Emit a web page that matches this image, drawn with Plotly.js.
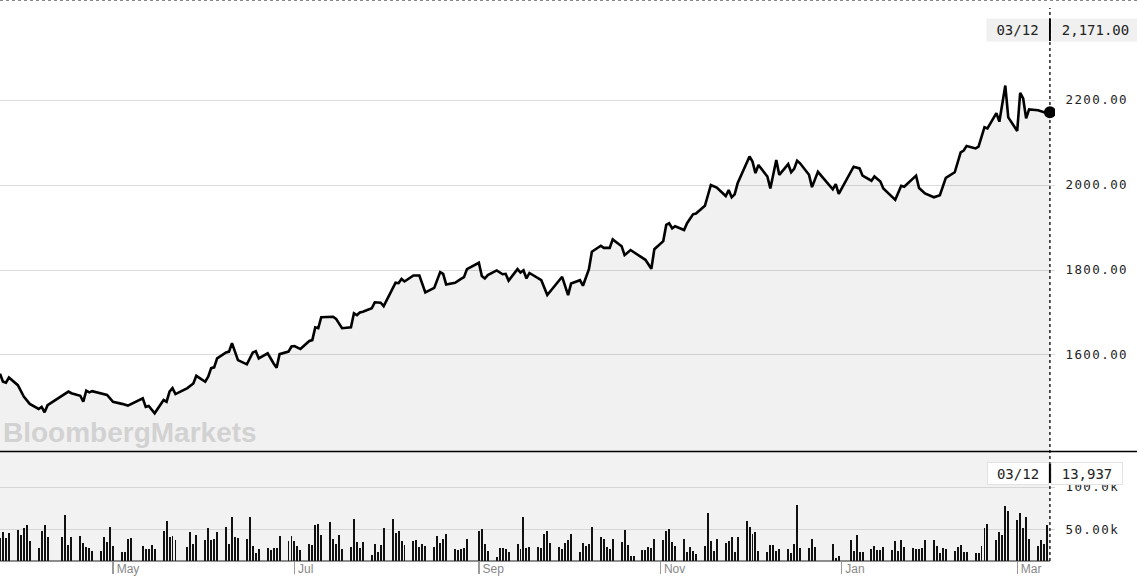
<!DOCTYPE html>
<html>
<head>
<meta charset="utf-8">
<script src="https://cdn.plot.ly/plotly-3.0.1.min.js"></script>
<style>
html,body{margin:0;padding:0;background:#fff;overflow:hidden;}
#chart{width:1137px;height:583px;}
.ytick text,.y2tick text{letter-spacing:1.4px;}
</style>
</head>
<body>
<div id="chart"></div>
<script>
// ---- data ----
const priceDates = [
'2020-03-24','2020-03-25','2020-03-26','2020-03-27','2020-03-30','2020-04-01','2020-04-03','2020-04-06','2020-04-07','2020-04-08','2020-04-09',
'2020-04-16','2020-04-17','2020-04-20','2020-04-21','2020-04-22','2020-04-23','2020-04-24','2020-04-29','2020-05-01','2020-05-04','2020-05-06',
'2020-05-11','2020-05-12','2020-05-13','2020-05-15','2020-05-18','2020-05-19','2020-05-20','2020-05-21','2020-05-22','2020-05-26','2020-05-28','2020-05-29',
'2020-06-01','2020-06-02','2020-06-03','2020-06-04','2020-06-05','2020-06-08','2020-06-09','2020-06-10','2020-06-12','2020-06-15','2020-06-17','2020-06-18','2020-06-19',
'2020-06-22','2020-06-24','2020-06-25','2020-06-26','2020-06-29','2020-06-30','2020-07-01','2020-07-03','2020-07-06','2020-07-07','2020-07-08','2020-07-09','2020-07-10',
'2020-07-14','2020-07-15','2020-07-17','2020-07-20','2020-07-21','2020-07-22','2020-07-23','2020-07-24','2020-07-27','2020-07-28','2020-07-30','2020-07-31',
'2020-08-04','2020-08-05','2020-08-06','2020-08-07','2020-08-10','2020-08-12','2020-08-14','2020-08-17','2020-08-19','2020-08-20','2020-08-21','2020-08-24','2020-08-26','2020-08-27','2020-08-28',
'2020-09-01','2020-09-02','2020-09-03','2020-09-04','2020-09-07','2020-09-09','2020-09-10','2020-09-11','2020-09-14','2020-09-15','2020-09-16','2020-09-17','2020-09-18','2020-09-22','2020-09-24','2020-09-29',
'2020-10-01','2020-10-02','2020-10-05','2020-10-06','2020-10-07','2020-10-08','2020-10-09','2020-10-12','2020-10-13','2020-10-15','2020-10-16','2020-10-19','2020-10-20','2020-10-22','2020-10-27','2020-10-29','2020-10-30',
'2020-11-02','2020-11-03','2020-11-04','2020-11-05','2020-11-06','2020-11-09','2020-11-10','2020-11-12','2020-11-13','2020-11-16','2020-11-18','2020-11-20','2020-11-23','2020-11-24','2020-11-25','2020-11-26','2020-11-27',
'2020-12-01','2020-12-02','2020-12-03','2020-12-04','2020-12-07','2020-12-08','2020-12-10','2020-12-11','2020-12-14','2020-12-15','2020-12-16','2020-12-17','2020-12-18','2020-12-21','2020-12-22','2020-12-24','2020-12-29','2020-12-30','2020-12-31',
'2021-01-05','2021-01-07','2021-01-08','2021-01-11','2021-01-12','2021-01-14','2021-01-15','2021-01-19','2021-01-21','2021-01-22','2021-01-26','2021-01-27','2021-01-29',
'2021-02-01','2021-02-03','2021-02-05','2021-02-08','2021-02-10','2021-02-11','2021-02-12','2021-02-15','2021-02-16','2021-02-18','2021-02-19','2021-02-22','2021-02-23','2021-02-25','2021-02-26',
'2021-03-01','2021-03-02','2021-03-03','2021-03-04','2021-03-05','2021-03-08','2021-03-11','2021-03-12'
];
const priceValues = [
1556,1537,1535,1547,1529,1502,1485,1473,1478,1465,1482,
1514,1510,1504,1490,1516,1512,1515,1506,1490,1485,1481,
1498,1478,1480,1463,1494,1490,1514,1522,1508,1522,1533,1551,
1537,1549,1569,1571,1592,1606,1608,1628,1588,1578,1606,1609,1592,
1604,1580,1570,1602,1608,1620,1621,1614,1633,1635,1665,1663,1689,
1690,1685,1663,1665,1698,1694,1700,1702,1710,1724,1723,1715,
1770,1769,1779,1773,1787,1787,1747,1758,1795,1791,1766,1770,1779,1783,1802,
1817,1786,1780,1788,1799,1790,1791,1775,1802,1794,1799,1780,1793,1776,1741,1784,
1741,1768,1776,1763,1783,1802,1843,1857,1852,1852,1872,1856,1835,1847,1824,1803,1849,
1868,1906,1910,1898,1903,1894,1910,1931,1933,1951,2000,1994,1974,1988,1971,1978,2004,
2067,2055,2028,2047,2020,1992,2059,2024,2049,2030,2038,2057,2051,2024,1995,2031,1990,2002,1979,
2043,2039,2022,2010,2020,2008,1992,1965,1998,1996,2022,1993,1980,
1971,1976,2017,2030,2077,2081,2092,2086,2090,2136,2133,2169,2149,2234,2159,
2127,2217,2204,2157,2178,2176,2169,2171
];
// daily volume, one value per trading session from sessionStart to sessionEnd
const sessionStart = '2020-03-24';
const sessionEnd = '2021-03-12';
const holidays = ['2020-04-10','2020-04-13','2020-05-08','2020-05-25','2020-08-31','2020-12-25','2020-12-28','2021-01-01'];
const volumeValues = [
41100,47700,41100,46500,
49600,44200,52700,55400,36800,
29100,48800,55400,42200,
41500,67400,32200,41800,
43000,34900,30600,28700,25600,
25600,41500,36400,53100,31400,
24400,24400,39100,40700,
31400,27500,27500,32900,27900,
49200,60100,42200,43000,38700,
30200,47700,33700,44200,
38000,51900,38700,39500,47700,
53100,33300,64700,41500,40700,
39100,65100,31000,23600,27500,
29100,26700,29100,28700,43400,
37200,42600,37600,31000,26700,
33700,32500,55400,56600,44200,
58900,39500,33300,43800,27900,
29800,62400,36000,29100,36000,
20500,33300,24800,32500,51900,
62800,46100,48800,36800,32900,
37200,38400,30600,34100,31400,
30200,43400,34900,39500,44900,
28300,27100,27900,28700,39500,
48400,51500,33300,26000,
19000,29100,28700,27900,24800,
33300,28300,65100,29400,29800,
30200,28700,44900,48800,34900,
30600,28300,34500,38400,45300,
24800,34900,31400,34100,53500,
41500,39500,29800,27900,39500,
36400,50400,32200,19800,19800,
26700,26700,29800,29400,39500,
38400,49200,51500,35600,31000,
39500,24400,30200,25200,22500,
31000,69800,37600,25200,39500,
34900,37600,42200,24000,41800,
60400,53100,44900,47700,25200,
24400,32200,32200,26000,27900,
27900,23200,33300,78700,28700,
29400,39500,29800,14100,
33700,17800,20100,
38400,26000,43800,24400,24400,
27900,31800,27100,27100,29800,
27100,37600,26000,38400,30200,
29100,27900,28300,29100,38000,
38000,31400,23600,29100,27900,
25600,30600,32500,24800,24000,
23200,23200,31400,52300,57000,
38000,48000,43800,78300,72500,
61600,69800,52700,65500,39900,
31400,38400,34100,55800,13937
];
const monthTicks = ['2020-05-01','2020-07-01','2020-09-01','2020-11-01','2021-01-01','2021-03-01'];
const monthLabels = ['May','Jul','Sep','Nov','Jan','Mar'];
const priceTicks = [1600,1800,2000,2200];
const volumeTicks = [50000,100000];
const watermark = 'BloombergMarkets';

// ---- build trading sessions ----
function tradingDays(start, end, skip){
  const out=[]; const d=new Date(start+'T00:00:00Z'); const e=new Date(end+'T00:00:00Z');
  while(d<=e){
    const wd=d.getUTCDay(); const s=d.toISOString().slice(0,10);
    if(wd!==0 && wd!==6 && skip.indexOf(s)<0) out.push(s);
    d.setUTCDate(d.getUTCDate()+1);
  }
  return out;
}
const volumeDates = tradingDays(sessionStart, sessionEnd, holidays);

const lastDate = priceDates[priceDates.length-1];
const lastPrice = priceValues[priceValues.length-1];
const lastVol = volumeValues[volumeValues.length-1];
const dateLabel = lastDate.slice(5,7)+'/'+lastDate.slice(8,10);
const priceLabel = lastPrice.toLocaleString('en-US',{minimumFractionDigits:2,maximumFractionDigits:2});
const volLabel = lastVol.toLocaleString('en-US');

const xRange = ['2020-03-24','2021-03-13 17:00'];
const mono = '"DejaVu Sans Mono", "Liberation Mono", monospace';
const H = 561; // plot-area height in px (for paper fractions)

const traces = [
  {type:'scatter', mode:'lines', x:priceDates, y:priceValues, xaxis:'x', yaxis:'y',
   line:{color:'#000', width:2.6, shape:'linear'}, fill:'tozeroy', fillcolor:'rgba(0,0,0,0.055)', hoverinfo:'skip'},
  {type:'scatter', mode:'markers', x:[lastDate], y:[lastPrice], xaxis:'x', yaxis:'y',
   marker:{color:'#000', size:12}, hoverinfo:'skip'},
  {type:'bar', x:volumeDates, y:volumeValues, xaxis:'x', yaxis:'y2',
   marker:{color:'#111', line:{width:0}}, width:0.66*86400000, hoverinfo:'skip'}
];

const layout = {
  width:1137, height:583,
  margin:{l:0, r:82, t:0, b:22},
  paper_bgcolor:'#fff', plot_bgcolor:'rgba(0,0,0,0)',
  showlegend:false, bargap:0,
  xaxis:{type:'date', range:xRange, anchor:'y2', showgrid:false, zeroline:false, showline:false,
    tickmode:'array', tickvals:monthTicks, ticktext:monthLabels,
    ticks:'outside', ticklen:12, tickwidth:1.3, tickcolor:'#9a9a9a',
    ticklabelposition:'outside right', ticklabelstandoff:-3, ticklabelshift:3,
    tickfont:{family:'"Liberation Sans", Arial, sans-serif', size:12, color:'#888'}},
  yaxis:{domain:[110/H,1], range:[1374.1,2435.3], side:'right', anchor:'x',
    tickmode:'array', tickvals:priceTicks, tickformat:'.2f',
    showgrid:true, gridcolor:'#dcdcdc', gridwidth:1, zeroline:false, showline:false,
    ticks:'outside', ticklen:7, tickcolor:'rgba(0,0,0,0)',
    tickfont:{family:mono, size:12.5, color:'#222'}},
  yaxis2:{domain:[0,109/H], range:[13937,140700], side:'right', anchor:'x',
    tickmode:'array', tickvals:volumeTicks, tickformat:'.4s',
    showgrid:true, gridcolor:'#d6d6d6', gridwidth:1, zeroline:false, showline:false,
    ticks:'outside', ticklen:7, tickcolor:'rgba(0,0,0,0)',
    tickfont:{family:mono, size:12.5, color:'#222'}},
  shapes:[
    {type:'rect', xref:'x', yref:'y2 domain', x0:xRange[0], x1:lastDate, y0:0, y1:1,
     fillcolor:'#f2f2f2', line:{width:0}, layer:'below'},
    {type:'line', xref:'x', yref:'y2 domain', x0:xRange[0], x1:lastDate, y0:0, y1:0,
     line:{color:'#222', width:1}},
    {type:'line', xref:'paper', yref:'paper', x0:0, x1:1137/1055, y0:(H-451.5)/H, y1:(H-451.5)/H,
     line:{color:'#000', width:1.3}},
    {type:'line', xref:'paper', yref:'paper', x0:0, x1:1137/1055, y0:1, y1:1,
     line:{color:'#888', width:2, dash:'dot'}},
    {type:'line', xref:'x', yref:'paper', x0:lastDate, x1:lastDate, y0:0, y1:(H-8)/H,
     line:{color:'#000', width:1.3, dash:'dot'}}
  ],
  annotations:[
    {xref:'paper', yref:'paper', x:0, y:(H-450)/H, xanchor:'left', yanchor:'bottom', xshift:1,
     text:watermark, showarrow:false,
     font:{family:'"Liberation Sans", Arial, sans-serif', size:28, weight:700, color:'#d2d2d2'}},
    {xref:'x', yref:'paper', x:lastDate, y:(H-30)/H, xanchor:'right', yanchor:'middle', xshift:-1,
     text:dateLabel, showarrow:false, width:61, height:22, borderpad:0, align:'center',
     bgcolor:'#f0f0f0', font:{family:mono, size:14, color:'#222'}},
    {xref:'x', yref:'paper', x:lastDate, y:(H-30)/H, xanchor:'left', yanchor:'middle', xshift:1,
     text:priceLabel, showarrow:false, width:87, height:22, borderpad:0, align:'center',
     bgcolor:'#f0f0f0', font:{family:mono, size:14, color:'#222'}},
    {xref:'x', yref:'paper', x:lastDate, y:(H-473)/H, xanchor:'right', yanchor:'middle', xshift:-1,
     text:dateLabel, showarrow:false, width:60, height:21, borderpad:0, align:'center',
     bgcolor:'#fff', bordercolor:'#e2e2e2', borderwidth:1, font:{family:mono, size:14, color:'#222'}},
    {xref:'x', yref:'paper', x:lastDate, y:(H-473)/H, xanchor:'left', yanchor:'middle', xshift:1,
     text:volLabel, showarrow:false, width:70, height:21, borderpad:0, align:'center',
     bgcolor:'#fff', bordercolor:'#e2e2e2', borderwidth:1, font:{family:mono, size:14, color:'#222'}}
  ]
};
layout.shapes.push({type:'line', xref:'x', yref:'paper', x0:lastDate, x1:lastDate, y0:(H-41)/H, y1:(H-19)/H, line:{color:'#000', width:2}});
layout.shapes.push({type:'line', xref:'x', yref:'paper', x0:lastDate, x1:lastDate, y0:(H-483)/H, y1:(H-464)/H, line:{color:'#000', width:2}});

Plotly.newPlot('chart', traces, layout, {staticPlot:true, displayModeBar:false});
</script>
</body>
</html>
